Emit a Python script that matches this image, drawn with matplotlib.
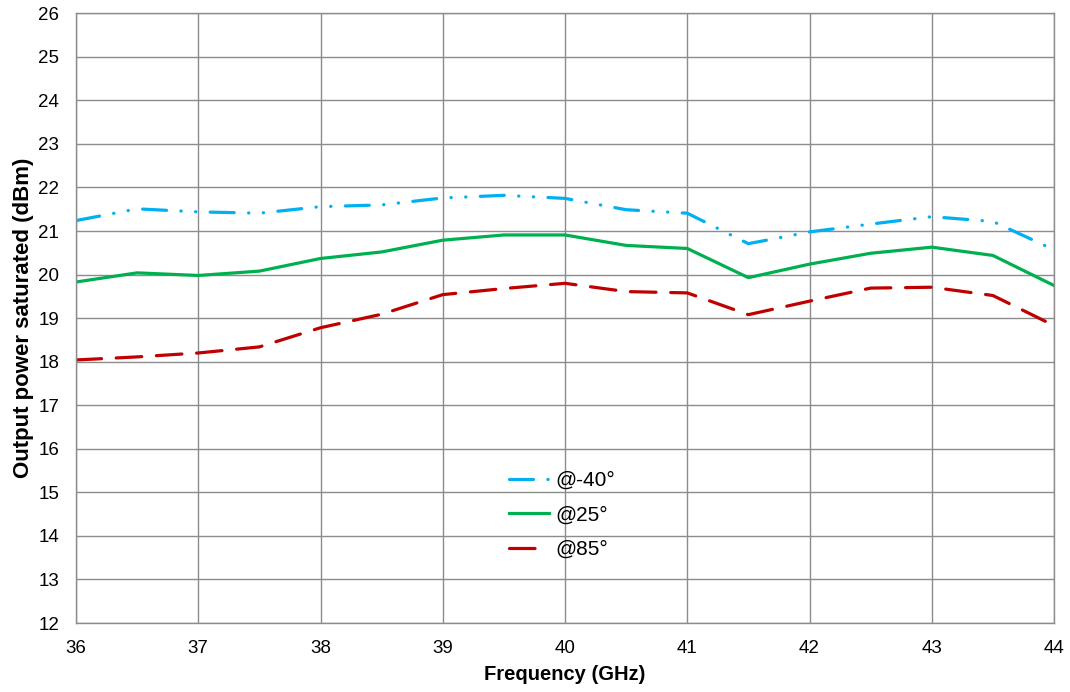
import matplotlib
matplotlib.use("Agg")
import matplotlib.pyplot as plt

# Frequency sweep (GHz) and saturated output power (dBm) per temperature
freq = [36, 36.5, 37, 37.5, 38, 38.5, 39, 39.5, 40, 40.5, 41, 41.5, 42, 42.5, 43, 43.5, 44]
psat_m40 = [21.24, 21.51, 21.44, 21.41, 21.56, 21.60, 21.76, 21.82, 21.75, 21.49, 21.41,
            20.71, 20.98, 21.16, 21.33, 21.22, 20.57]
psat_25 = [19.83, 20.04, 19.98, 20.08, 20.37, 20.52, 20.79, 20.91, 20.91, 20.67, 20.60,
           19.93, 20.24, 20.49, 20.63, 20.44, 19.75]
psat_85 = [18.04, 18.11, 18.20, 18.34, 18.78, 19.09, 19.54, 19.68, 19.80, 19.61, 19.58,
           19.08, 19.39, 19.69, 19.71, 19.52, 18.83]
labels = ["@-40°", "@25°", "@85°"]

plt.rcParams["font.family"] = ["Liberation Sans", "DejaVu Sans"]

fig = plt.figure(figsize=(10.7, 6.92), dpi=100)
ax = fig.add_axes([76 / 1070, 1 - 623 / 692, (1054 - 76) / 1070, (623 - 13.3) / 692])

lw = 2.3
ax.plot(freq, psat_m40, color="#00B0F0", lw=lw, label=labels[0],
        linestyle=(0, (7.5, 4.5, 0.1, 4.5, 0.1, 4.5)), dash_capstyle="round")
ax.plot(freq, psat_25, color="#00B050", lw=lw, label=labels[1], solid_joinstyle="round")
ax.plot(freq, psat_85, color="#C00000", lw=lw, label=labels[2],
        linestyle=(0, (8, 4.6)), dash_capstyle="round")

ax.set_xlim(36, 44)
ax.set_ylim(12, 26)
ax.set_xticks(range(36, 45))
ax.set_yticks(range(12, 27))
ax.grid(True, color="#8C8C8C", lw=1)
ax.set_axisbelow(True)
for s in ax.spines.values():
    s.set_color("#8C8C8C")
    s.set_linewidth(1)
ax.tick_params(length=0, labelsize=13.5, pad=12, colors="black")

ax.set_xlabel("Frequency (GHz)", fontsize=14.5, fontweight="bold", labelpad=6)
ax.set_ylabel("Output power saturated (dBm)", fontsize=16, fontweight="bold", labelpad=3)

leg = ax.legend(loc="center", bbox_to_anchor=(0.497, 0.177), frameon=False,
                fontsize=15, handlelength=1.9, handletextpad=0.3, labelspacing=0.75)

fig.savefig("out.png", dpi=100)
